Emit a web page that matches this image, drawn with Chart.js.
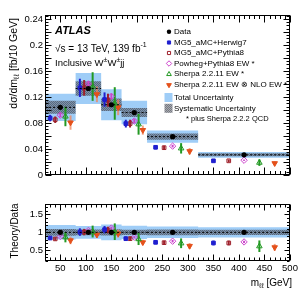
<!DOCTYPE html>
<html>
<head>
<meta charset="utf-8">
<script src="https://cdn.jsdelivr.net/npm/chart.js@4.4.1/dist/chart.umd.min.js"></script>
<style>
    body { margin: 0; background: #ffffff; width: 307px; height: 307px; overflow: hidden; }
    #main-chart { position: absolute; left: 0; top: 0; }
    #ratio-chart { position: absolute; left: 0; top: 196px; }
</style>
</head>
<body>
<canvas id="main-chart" width="307" height="196"></canvas>
<canvas id="ratio-chart" width="307" height="111"></canvas>
<script>
// =========================================================
// DATA
// =========================================================

const binEdges = [20, 80, 130, 170, 220, 320, 500];

const dataValues = [0.104, 0.133, 0.108, 0.096, 0.059, 0.031];
const totalUncertainty = [0.021, 0.024, 0.024, 0.018, 0.0095, 0.0045];
const systUncertainty = [0.010, 0.011, 0.0095, 0.007, 0.0048, 0.0023];

const mg5HerwigValues = [0.0875, 0.134, 0.116, 0.079, 0.0426, 0.0218];
const mg5HerwigErrors = [0.005, 0.014, 0.011, 0.006, 0.003, 0.002];

const mg5PythiaValues = [0.085, 0.134, 0.115, 0.079, 0.042, 0.0218];
const mg5PythiaErrors = [0.005, 0.012, 0.010, 0.006, 0.003, 0.002];

const powhegValues = [0.092, 0.140, 0.121, 0.083, 0.0444, 0.0227];
const powhegErrors = [0.003, 0.004, 0.004, 0.003, 0.002, 0.001];

const sherpaValues = [0.090, 0.136, 0.110, 0.078, 0.041, 0.019];
const sherpaErrors = [0.015, 0.022, 0.025, 0.016, 0.008, 0.005];

const sherpaNloValues = [0.0806, 0.124, 0.104, 0.069, 0.0365, 0.018];
const sherpaNloErrors = [0.011, 0.012, 0.012, 0.007, 0.005, 0.003];

const mainYTicks = [0, 0.02, 0.04, 0.06, 0.08, 0.1, 0.12, 0.14, 0.16, 0.18, 0.2, 0.22, 0.24];
const ratioYTicks = [0.5, 1, 1.5];
const xTicks = [50, 100, 150, 200, 250, 300, 350, 400, 450, 500];

// =========================================================
// STYLE
// =========================================================

const FONT = '"Liberation Sans", Arial, Helvetica, sans-serif';
Chart.defaults.font.family = FONT;
Chart.defaults.color = "#000";

const COLORS = {
    herwig: "#1f1fcf",
    pythia: "#9e1f2a",
    powheg: "#cc44cc",
    sherpa: "#229922",
    sherpaNlo: "#e4501a",
    sherpaNloBar: "rgba(240, 130, 90, 0.75)",
    total: "#9fcdf7"
};

const hatchPattern = createHatchPattern();

// =========================================================
// HELPERS
// =========================================================

const binCenters = binEdges.slice(0, -1).map((low, i) => (low + binEdges[i + 1]) / 2);
const binWidths = binEdges.slice(0, -1).map((low, i) => binEdges[i + 1] - low);

function createHatchPattern() {
    const tile = document.createElement("canvas");
    tile.width = 2;
    tile.height = 2;
    const context = tile.getContext("2d");

    context.fillStyle = "rgba(95, 100, 112, 0.55)";
    context.fillRect(0, 0, 2, 2);
    context.fillStyle = "rgba(30, 30, 40, 0.35)";
    context.fillRect(0, 0, 1, 1);
    context.fillRect(1, 1, 1, 1);

    return context.createPattern(tile, "repeat");
}

function formatTick(value) {
    return String(parseFloat(value.toFixed(3)));
}

// slot -2..2 shifts a marker by a sixth of the bin width
function slotPoints(values, slot) {
    return values.map((value, i) => ({ x: binCenters[i] + slot * binWidths[i] / 6, y: value }));
}

function stepPoints(values) {
    const points = values.map((value, i) => ({ x: binEdges[i], y: value }));
    points.push({ x: binEdges[binEdges.length - 1], y: values[values.length - 1] });
    return points;
}

function binLinePoints(values) {
    const points = [];
    values.forEach((value, i) => {
        points.push({ x: binEdges[i], y: value });
        points.push({ x: binEdges[i + 1], y: value });
        points.push({ x: binEdges[i + 1], y: null });
    });
    return points;
}

function drawRichText(context, parts, x, y, measureOnly) {
    // parts: [text, fontSize, yOffset, weightStyle]
    let cursor = x;
    for (const part of parts) {
        context.font = (part[3] || "") + " " + part[1] + "px " + FONT;
        if (!measureOnly) {
            context.fillText(part[0], cursor, y + part[2]);
        }
        cursor += context.measureText(part[0]).width;
    }
    return cursor - x;
}

function buildDatasets(center, centerLine, series, systLow, systHigh, totalLow, totalHigh) {
    const datasets = [
        {
            data: center,
            pointStyle: "circle",
            pointRadius: 2.6,
            backgroundColor: "#000",
            borderColor: "#000",
            borderWidth: 0
        },
        {
            type: "line",
            data: centerLine,
            borderColor: "#000",
            borderWidth: 1,
            borderDash: [2, 2],
            pointRadius: 0,
            spanGaps: false,
            fill: false
        }
    ];

    for (const item of series) {
        datasets.push(item);
    }

    datasets.push(bandEdge(systLow, false, null));
    datasets.push(bandEdge(systHigh, "-1", hatchPattern));
    datasets.push(bandEdge(totalLow, false, null));
    datasets.push(bandEdge(totalHigh, "-1", COLORS.total));

    return datasets;
}

function bandEdge(values, fill, color) {
    return {
        type: "line",
        data: stepPoints(values),
        stepped: true,
        borderColor: "rgba(0, 0, 0, 0)",
        borderWidth: 1,
        pointRadius: 0,
        fill: fill,
        backgroundColor: color || "rgba(0, 0, 0, 0)"
    };
}

function markerSeries(values, errors) {
    return [
        { data: slotPoints(values[0], -2), errors: errors[0], pointStyle: "rect", pointRadius: 2.6, backgroundColor: COLORS.herwig, borderColor: COLORS.herwig, borderWidth: 1 },
        { data: slotPoints(values[1], -1), errors: errors[1], pointStyle: "rect", pointRadius: 2.6, backgroundColor: "rgba(0,0,0,0)", borderColor: COLORS.pythia, borderWidth: 1 },
        { data: slotPoints(values[2], 0), errors: errors[2], pointStyle: "rectRot", pointRadius: 3.2, backgroundColor: "rgba(0,0,0,0)", borderColor: COLORS.powheg, borderWidth: 1 },
        { data: slotPoints(values[3], 1), errors: errors[3], pointStyle: "triangle", pointRadius: 3.2, backgroundColor: "rgba(0,0,0,0)", borderColor: COLORS.sherpa, borderWidth: 1 },
        { data: slotPoints(values[4], 2), errors: errors[4], errorColor: COLORS.sherpaNloBar, pointStyle: "triangle", rotation: 180, pointRadius: 3.2, backgroundColor: COLORS.sherpaNlo, borderColor: COLORS.sherpaNlo, borderWidth: 1 }
    ];
}

// =========================================================
// PLUGINS
// =========================================================

const errorBarPlugin = {
    id: "errorBars",
    beforeDatasetDraw(chart, args) {
        const dataset = chart.data.datasets[args.index];
        if (!dataset.errors) {
            return;
        }

        const context = chart.ctx;
        const xScale = chart.scales.x;
        const yScale = chart.scales.y;

        context.save();
        context.strokeStyle = dataset.errorColor || dataset.borderColor;
        context.lineWidth = 2;

        dataset.data.forEach(function (point, i) {
            const px = xScale.getPixelForValue(point.x);
            context.beginPath();
            context.moveTo(px, yScale.getPixelForValue(point.y - dataset.errors[i]));
            context.lineTo(px, yScale.getPixelForValue(point.y + dataset.errors[i]));
            context.stroke();
        });

        context.restore();
    }
};

const frameTicksPlugin = {
    id: "frameTicks",
    afterDatasetsDraw(chart, args, options) {
        const context = chart.ctx;
        const area = chart.chartArea;
        const xScale = chart.scales.x;
        const yScale = chart.scales.y;

        context.save();
        context.strokeStyle = "#000";
        context.lineWidth = 1;

        const left = Math.round(area.left) + 0.5;
        const right = Math.round(area.right) - 0.5;
        const top = Math.round(area.top) + 0.5;
        const bottom = Math.round(area.bottom) - 0.5;

        context.strokeRect(left, top, right - left, bottom - top);

        context.beginPath();

        for (let k = 0; ; k++) {
            const value = options.xStart + k * options.xMinorStep;
            if (value > xScale.max + 1e-9) break;
            const ratio = value / options.xMajorStep;
            const length = Math.abs(ratio - Math.round(ratio)) < 1e-6 ? options.xMajorLength : options.xMinorLength;
            const px = Math.round(xScale.getPixelForValue(value)) + 0.5;
            context.moveTo(px, bottom);
            context.lineTo(px, bottom - length);
            context.moveTo(px, top);
            context.lineTo(px, top + length);
        }

        for (let k = 0; ; k++) {
            const value = options.yStart + k * options.yMinorStep;
            if (value > yScale.max + 1e-9) break;
            const ratio = value / options.yMajorStep;
            const length = Math.abs(ratio - Math.round(ratio)) < 1e-6 ? options.yMajorLength : options.yMinorLength;
            const py = Math.round(yScale.getPixelForValue(value)) + 0.5;
            context.moveTo(left, py);
            context.lineTo(left + length, py);
            context.moveTo(right, py);
            context.lineTo(right - length, py);
        }

        context.stroke();
        context.restore();
    }
};

const mainLabelsPlugin = {
    id: "mainLabels",
    afterDraw(chart) {
        const context = chart.ctx;
        context.save();
        context.fillStyle = "#000";
        context.textBaseline = "middle";
        context.textAlign = "left";

        drawRichText(context, [["ATLAS", 11, 0, "italic bold"]], 55, 31);
        drawRichText(context, [["\u221As = 13 TeV, 139 fb", 10, 0], ["-1", 7, -4]], 55, 49);
        drawRichText(context, [["Inclusive W", 9.5, 0], ["\u00B1", 7, -3], ["W", 9.5, 0], ["\u00B1", 7, -3], ["jj", 9.5, 0]], 55, 63);

        // y title, right aligned to the top of the frame
        const titleParts = [["d\u03C3/dm", 10.5, 0], ["\u2113\u2113", 7.5, 3], [" [fb/10 GeV]", 10.5, 0]];
        const titleWidth = drawRichText(context, titleParts, 0, 0, true);
        context.translate(14, 18 + titleWidth);
        context.rotate(-Math.PI / 2);
        drawRichText(context, titleParts, 0, 0);
        context.setTransform(1, 0, 0, 1, 0, 0);

        drawLegend(context, chart);
        context.restore();
    }
};

function drawLegend(context, chart) {
    const markerX = 169;
    const textX = 174;
    const rows = [31.7, 42.5, 53, 63.5, 74.2, 85, 97.5, 108.3];
    const texts = [
        "Data",
        "MG5_aMC+Herwig7",
        "MG5_aMC+Pythia8",
        "Powheg+Pythia8 EW *",
        "Sherpa 2.2.11 EW *",
        "Sherpa 2.2.11 EW \u2297 NLO EW *",
        "Total Uncertainty",
        "Systematic Uncertainty"
    ];

    const markerDatasets = chart.data.datasets.slice(0, 7).filter((dataset, i) => i !== 1);

    markerDatasets.forEach(function (dataset, i) {
        context.fillStyle = dataset.backgroundColor;
        context.strokeStyle = dataset.borderColor;
        context.lineWidth = dataset.borderWidth || 1;
        Chart.helpers.drawPoint(context, {
            pointStyle: dataset.pointStyle,
            rotation: dataset.rotation || 0,
            radius: dataset.pointRadius * 0.85,
            borderWidth: dataset.borderWidth
        }, markerX, rows[i]);
    });

    context.fillStyle = COLORS.total;
    context.fillRect(markerX - 4.5, rows[6] - 4.5, 8, 9);
    context.fillStyle = "#ffffff";
    context.fillRect(markerX - 4.5, rows[7] - 4.5, 8, 9);
    context.fillStyle = hatchPattern;
    context.fillRect(markerX - 4.5, rows[7] - 4.5, 8, 9);

    context.fillStyle = "#000";
    texts.forEach(function (text, i) {
        drawRichText(context, [[text, 8, 0]], textX, rows[i]);
    });
    drawRichText(context, [["* plus Sherpa 2.2.2 QCD", 7.5, 0]], 186, 118.5);
}

const ratioLabelsPlugin = {
    id: "ratioLabels",
    afterDraw(chart) {
        const context = chart.ctx;
        context.save();
        context.fillStyle = "#000";
        context.textBaseline = "middle";

        const xTitleParts = [["m", 10, 0], ["\u2113\u2113", 7, 3], [" [GeV]", 10, 0]];
        const xTitleWidth = drawRichText(context, xTitleParts, 0, 0, true);
        drawRichText(context, xTitleParts, 292 - xTitleWidth, 87);

        const yTitleParts = [["Theory/Data", 10, 0]];
        const yTitleWidth = drawRichText(context, yTitleParts, 0, 0, true);
        context.translate(15, 35 + yTitleWidth / 2);
        context.rotate(-Math.PI / 2);
        drawRichText(context, yTitleParts, 0, 0);

        context.restore();
    }
};

// =========================================================
// CHARTS
// =========================================================

function baseOptions(padding, yMin, yMax, yTicks, showX) {
    return {
        responsive: false,
        animation: false,
        events: [],
        layout: { padding: padding },
        scales: {
            x: {
                type: "linear",
                min: 20,
                max: 500,
                display: showX,
                grid: { display: false, drawTicks: false, tickLength: 0 },
                border: { display: false },
                afterBuildTicks: function (scale) {
                    scale.ticks = xTicks.map(value => ({ value: value }));
                },
                afterFit: function (scale) {
                    scale.height = 18;
                },
                ticks: {
                    autoSkip: false,
                    maxRotation: 0,
                    padding: 2,
                    font: { size: 9.5 },
                    callback: formatTick
                }
            },
            y: {
                min: yMin,
                max: yMax,
                grid: { display: false, drawTicks: false, tickLength: 0 },
                border: { display: false },
                afterBuildTicks: function (scale) {
                    scale.ticks = yTicks.map(value => ({ value: value }));
                },
                afterFit: function (scale) {
                    scale.width = 45;
                },
                ticks: {
                    padding: 2,
                    font: { size: 9.5 },
                    callback: formatTick
                }
            }
        },
        plugins: {
            legend: { display: false },
            tooltip: { enabled: false }
        }
    };
}

function setupMainChart() {
    const canvas = document.getElementById("main-chart");
    const options = baseOptions({ top: 15, bottom: 3, left: 0, right: 17 }, 0, 0.246, mainYTicks, false);

    options.plugins.frameTicks = {
        xStart: 20, xMinorStep: 10, xMajorStep: 50, xMajorLength: 7, xMinorLength: 3.5,
        yStart: 0, yMinorStep: 0.005, yMajorStep: 0.02, yMajorLength: 6, yMinorLength: 3
    };

    const series = markerSeries(
        [mg5HerwigValues, mg5PythiaValues, powhegValues, sherpaValues, sherpaNloValues],
        [mg5HerwigErrors, mg5PythiaErrors, powhegErrors, sherpaErrors, sherpaNloErrors]
    );

    const datasets = buildDatasets(
        slotPoints(dataValues, 0),
        binLinePoints(dataValues),
        series,
        dataValues.map((value, i) => value - systUncertainty[i]),
        dataValues.map((value, i) => value + systUncertainty[i]),
        dataValues.map((value, i) => value - totalUncertainty[i]),
        dataValues.map((value, i) => value + totalUncertainty[i])
    );

    return new Chart(canvas, {
        type: "scatter",
        data: { datasets: datasets },
        options: options,
        plugins: [errorBarPlugin, frameTicksPlugin, mainLabelsPlugin]
    });
}

function setupRatioChart() {
    const canvas = document.getElementById("ratio-chart");
    const options = baseOptions({ top: 4, bottom: 28, left: 0, right: 17 }, 0.2, 1.8, ratioYTicks, true);

    options.plugins.frameTicks = {
        xStart: 20, xMinorStep: 10, xMajorStep: 50, xMajorLength: 6, xMinorLength: 3,
        yStart: 0.2, yMinorStep: 0.1, yMajorStep: 0.5, yMajorLength: 5, yMinorLength: 2.5
    };

    const ones = dataValues.map(() => 1);
    const ratioOf = values => values.map((value, i) => value / dataValues[i]);

    const series = markerSeries(
        [ratioOf(mg5HerwigValues), ratioOf(mg5PythiaValues), ratioOf(powhegValues), ratioOf(sherpaValues), ratioOf(sherpaNloValues)],
        [ratioOf(mg5HerwigErrors), ratioOf(mg5PythiaErrors), ratioOf(powhegErrors), ratioOf(sherpaErrors), ratioOf(sherpaNloErrors)]
    );

    const datasets = buildDatasets(
        slotPoints(ones, 0),
        binLinePoints(ones),
        series,
        ratioOf(systUncertainty).map(value => 1 - value),
        ratioOf(systUncertainty).map(value => 1 + value),
        ratioOf(totalUncertainty).map(value => 1 - value),
        ratioOf(totalUncertainty).map(value => 1 + value)
    );

    return new Chart(canvas, {
        type: "scatter",
        data: { datasets: datasets },
        options: options,
        plugins: [errorBarPlugin, frameTicksPlugin, ratioLabelsPlugin]
    });
}

setupMainChart();
setupRatioChart();
</script>
</body>
</html>
